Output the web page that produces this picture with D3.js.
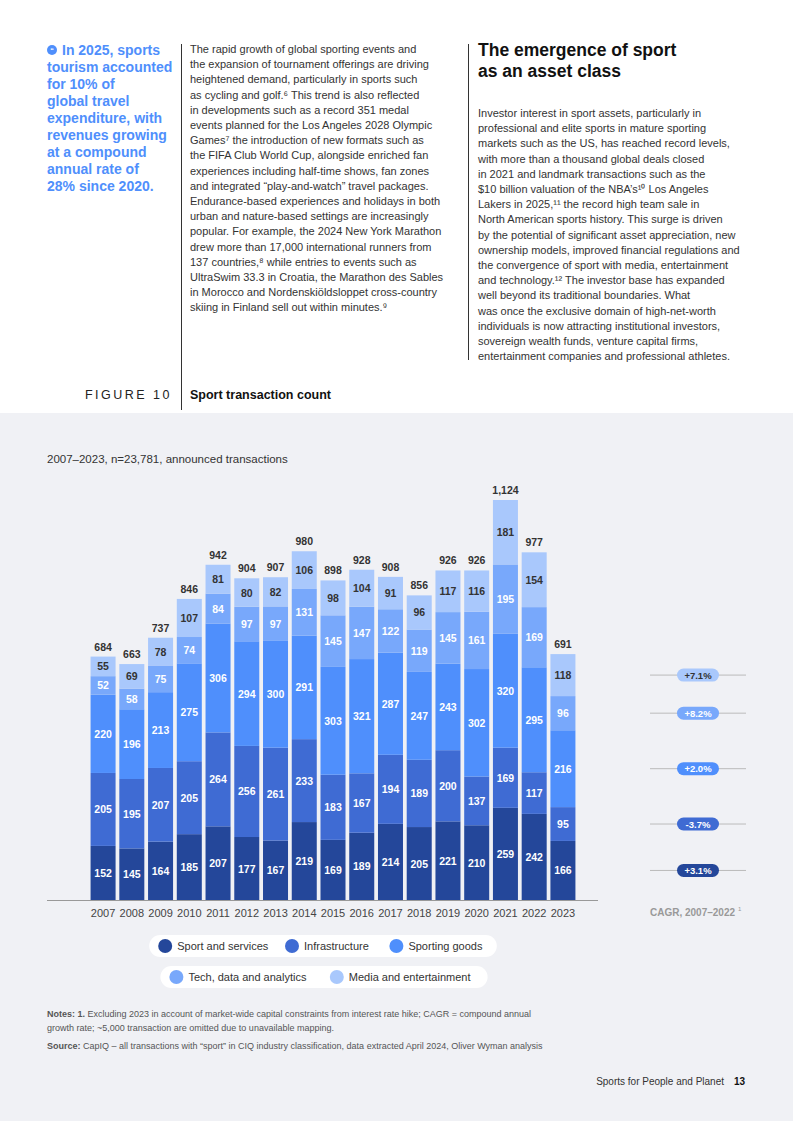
<!DOCTYPE html>
<html lang="en">
<head>
<meta charset="UTF-8">
<script src="https://cdn.jsdelivr.net/npm/d3@7"></script>
<style>
  body { margin:0; font-family: "Liberation Sans", Arial, sans-serif; }
  svg { display:block; }
</style>
</head>
<body>
<div id="page"></div>
<script>
var years = ["2007","2008","2009","2010","2011","2012","2013","2014","2015","2016","2017","2018","2019","2020","2021","2022","2023"];
var sport = [152,145,164,185,207,177,167,219,169,189,214,205,221,210,259,242,166];
var infra = [205,195,207,205,264,256,261,233,183,167,194,189,200,137,169,117,95];
var goods = [220,196,213,275,306,294,300,291,303,321,287,247,243,302,320,295,216];
var tech = [52,58,75,74,84,97,97,131,145,147,122,119,145,161,195,169,96];
var media = [55,69,78,107,81,80,82,106,98,104,91,96,117,116,181,154,118];
var totals = [684,663,737,846,942,904,907,980,898,928,908,856,926,926,1124,977,691];
var seriesNames = ["Sport and services","Infrastructure","Sporting goods","Tech, data and analytics","Media and entertainment"];
var cagr = ["+3.1%","-3.7%","+2.0%","+8.2%","+7.1%"];
var colors = ["#24479a","#3f6bd3","#4f8ffc","#78a8fb","#a9c8fc"];

var W = 793, H = 1121;
var svg = d3.select("#page").append("svg").attr("width", W).attr("height", H);
svg.append("rect").attr("width", W).attr("height", H).attr("fill", "#fff");
svg.append("rect").attr("y", 413).attr("width", W).attr("height", H-413).attr("fill", "#f0f1f5");

// text blocks
function lines(x, y, arr, lh, attrs) {
  var t = svg.append("text").attr("x", x).attr("y", y);
  for (var k in attrs) t.attr(k, attrs[k]);
  arr.forEach(function(s, i) { t.append("tspan").attr("x", x).attr("dy", i ? lh : 0).text(s); });
  return t;
}
svg.append("circle").attr("cx", 52).attr("cy", 50).attr("r", 5).attr("fill", "#4f8ffc");
svg.append("text").attr("x", 52).attr("y", 52.5).attr("text-anchor","middle").attr("font-size", 7).attr("font-weight","bold").attr("fill","#fff").text("\u201C");
lines(62, 55, ["In 2025, sports"], 17, {"font-size": 14, "font-weight": "bold", fill: "#4f8ffc"});
lines(47, 72, ["tourism accounted","for 10% of","global travel","expenditure, with","revenues growing","at a compound","annual rate of","28% since 2020."], 17, {"font-size": 14, "font-weight": "bold", fill: "#4f8ffc"});

svg.append("line").attr("x1",181.5).attr("x2",181.5).attr("y1",44).attr("y2",410).attr("stroke","#333");
lines(190, 53, ["The rapid growth of global sporting events and","the expansion of tournament offerings are driving","heightened demand, particularly in sports such","as cycling and golf.\u2076 This trend is also reflected","in developments such as a record 351 medal","events planned for the Los Angeles 2028 Olympic","Games\u2077 the introduction of new formats such as","the FIFA Club World Cup, alongside enriched fan","experiences including half-time shows, fan zones","and integrated \u201Cplay-and-watch\u201D travel packages.","Endurance-based experiences and holidays in both","urban and nature-based settings are increasingly","popular. For example, the 2024 New York Marathon","drew more than 17,000 international runners from","137 countries,\u2078 while entries to events such as","UltraSwim 33.3 in Croatia, the Marathon des Sables","in Morocco and Nordenskiöldsloppet cross-country","skiing in Finland sell out within minutes.\u2079"], 15.2, {"font-size": 11, fill: "#333"});

svg.append("line").attr("x1",468.5).attr("x2",468.5).attr("y1",44).attr("y2",360).attr("stroke","#333");
lines(478, 56, ["The emergence of sport","as an asset class"], 21, {"font-size": 17.5, "font-weight": "bold", fill: "#111"});
lines(478, 117, ["Investor interest in sport assets, particularly in","professional and elite sports in mature sporting","markets such as the US, has reached record levels,","with more than a thousand global deals closed","in 2021 and landmark transactions such as the","$10 billion valuation of the NBA\u2019s\u00B9\u2070 Los Angeles","Lakers in 2025,\u00B9\u00B9 the record high team sale in","North American sports history. This surge is driven","by the potential of significant asset appreciation, new","ownership models, improved financial regulations and","the convergence of sport with media, entertainment","and technology.\u00B9\u00B2 The investor base has expanded","well beyond its traditional boundaries. What","was once the exclusive domain of high-net-worth","individuals is now attracting institutional investors,","sovereign wealth funds, venture capital firms,","entertainment companies and professional athletes."], 15.2, {"font-size": 11, fill: "#333"});

svg.append("text").attr("x", 172).attr("y", 399).attr("text-anchor","end").attr("font-size", 12.5).attr("letter-spacing", 2.5).attr("fill","#222").text("FIGURE 10");
svg.append("text").attr("x", 190).attr("y", 399).attr("font-size", 12.5).attr("font-weight","bold").attr("fill","#111").text("Sport transaction count");
svg.append("text").attr("x", 47).attr("y", 463).attr("font-size", 11.5).attr("fill","#333").text("2007\u20132023, n=23,781, announced transactions");

// chart
var x = d3.scaleBand().domain(years).range([90, 576]).paddingInner(0.13).paddingOuter(0.02);
var y = d3.scaleLinear().domain([0, 1124]).range([900, 500]);
var rows = years.map(function(yr, i) { return {year: yr, s0: sport[i], s1: infra[i], s2: goods[i], s3: tech[i], s4: media[i]}; });
var stack = d3.stack().keys(["s0","s1","s2","s3","s4"])(rows);
var g = svg.append("g");
stack.forEach(function(layer, li) {
  g.append("g").selectAll("rect").data(layer).join("rect")
    .attr("x", function(d) { return x(d.data.year); })
    .attr("width", x.bandwidth())
    .attr("y", function(d) { return y(d[1]); })
    .attr("height", function(d) { return y(d[0]) - y(d[1]); })
    .attr("fill", colors[li]);
  g.append("g").selectAll("text").data(layer).join("text")
    .attr("x", function(d) { return x(d.data.year) + x.bandwidth()/2; })
    .attr("y", function(d) { return (y(d[0]) + y(d[1]))/2 + 4; })
    .attr("text-anchor","middle").attr("font-size", 10.5).attr("font-weight","bold")
    .attr("fill", li === 4 ? "#333" : "#fff")
    .text(function(d) { return d[1] - d[0]; });
});
g.selectAll(".tot").data(years).join("text")
  .attr("x", function(d) { return x(d) + x.bandwidth()/2; })
  .attr("y", function(d, i) { return y(totals[i]) - 6; })
  .attr("text-anchor","middle").attr("font-size", 10.5).attr("font-weight","bold").attr("fill","#333")
  .text(function(d, i) { return d3.format(",")(totals[i]); });

svg.append("line").attr("x1", 47).attr("x2", 598).attr("y1", 900.5).attr("y2", 900.5).attr("stroke","#999").attr("stroke-width",1.2);
var ax = svg.append("g").attr("transform","translate(0,900)").call(d3.axisBottom(x).tickSize(0).tickPadding(9));
ax.select(".domain").remove();
ax.selectAll("text").attr("font-size", 11).attr("fill","#444").attr("font-family","Liberation Sans, Arial, sans-serif");

// CAGR pills at 2023 segment midpoints
var last = stack.map(function(layer) { return layer[layer.length-1]; });
last.forEach(function(d, i) {
  var cy = (y(d[0]) + y(d[1]))/2;
  svg.append("line").attr("x1", 650).attr("x2", 746).attr("y1", cy).attr("y2", cy).attr("stroke","#bbb");
  svg.append("rect").attr("x", 677).attr("y", cy-6.5).attr("width", 42).attr("height", 13).attr("rx", 6.5).attr("fill", colors[i]);
  svg.append("text").attr("x", 698).attr("y", cy+3.5).attr("text-anchor","middle").attr("font-size", 9.5).attr("font-weight","bold")
    .attr("fill", i === 4 ? "#333" : "#fff").text(cagr[i]);
});
svg.append("text").attr("x", 650).attr("y", 916).attr("font-size", 10).attr("font-weight","bold").attr("fill","#999").text("CAGR, 2007\u20132022");
svg.append("text").attr("x", 738).attr("y", 911).attr("font-size", 6).attr("fill","#999").text("1");

// legend
function legendRow(items, cx, cy) {
  var widths = items.map(function(i) { return 26 + seriesNames[i].length * 5.6; });
  var total = d3.sum(widths) + 12;
  var lx = cx - total/2;
  svg.append("rect").attr("x", lx).attr("y", cy-11).attr("width", total).attr("height", 22).attr("rx", 11).attr("fill","#fff");
  var px = lx + 10;
  items.forEach(function(it, k) {
    svg.append("circle").attr("cx", px + 6).attr("cy", cy).attr("r", 7).attr("fill", colors[it]);
    svg.append("text").attr("x", px + 18).attr("y", cy + 4).attr("font-size", 11).attr("fill","#333").text(seriesNames[it]);
    px += widths[k];
  });
}
legendRow([0,1,2], 323, 946);
legendRow([3,4], 324, 977);

lines(47, 1017, ["growth rate; ~5,000 transaction are omitted due to unavailable mapping."], 14, {"font-size": 9, fill: "#555"}).attr("y", 1031);
var n = svg.append("text").attr("x", 47).attr("y", 1017).attr("font-size", 9).attr("fill","#555");
n.append("tspan").attr("font-weight","bold").text("Notes: 1. ");
n.append("tspan").text("Excluding 2023 in account of market-wide capital constraints from interest rate hike; CAGR = compound annual");
var s = svg.append("text").attr("x", 47).attr("y", 1049).attr("font-size", 9).attr("fill","#555");
s.append("tspan").attr("font-weight","bold").text("Source: ");
s.append("tspan").text("CapIQ \u2013 all transactions with \u201Csport\u201D in CIQ industry classification, data extracted April 2024, Oliver Wyman analysis");

svg.append("text").attr("x", 724).attr("y", 1085).attr("text-anchor","end").attr("font-size", 10).attr("fill","#333").text("Sports for People and Planet");
svg.append("text").attr("x", 745).attr("y", 1085).attr("text-anchor","end").attr("font-size", 10).attr("font-weight","bold").attr("fill","#111").text("13");
</script>
</body>
</html>
